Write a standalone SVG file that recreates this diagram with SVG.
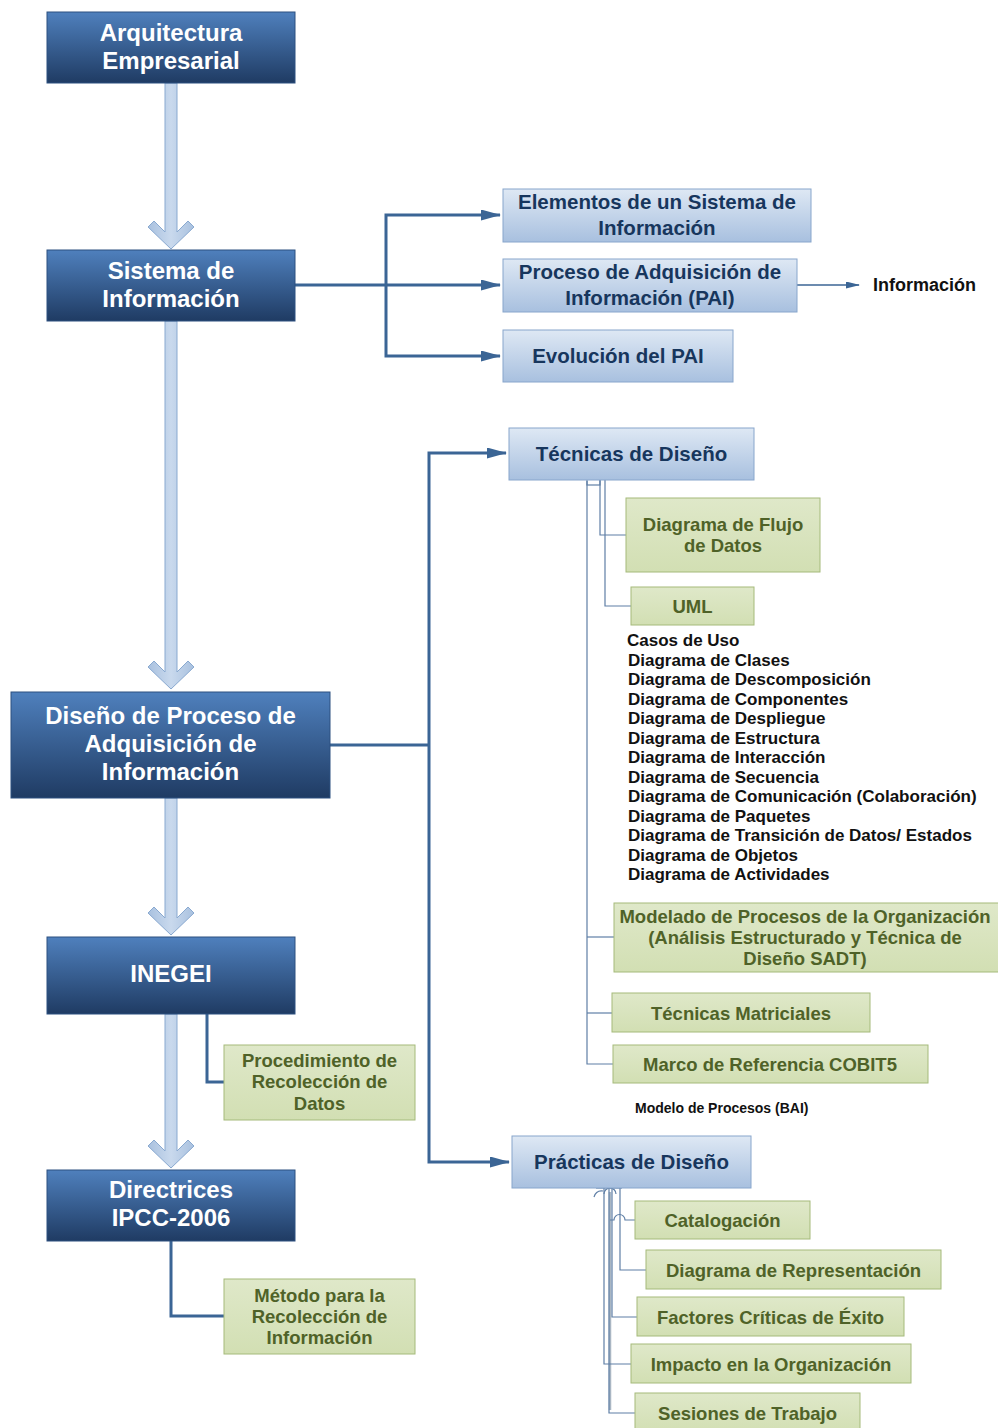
<svg xmlns="http://www.w3.org/2000/svg" width="998" height="1428" viewBox="0 0 998 1428">
  <defs>
    <linearGradient id="gDark" x1="0" y1="0" x2="0" y2="1">
      <stop offset="0" stop-color="#4f80bd"/>
      <stop offset="1" stop-color="#1f3b63"/>
    </linearGradient>
    <linearGradient id="gLight" x1="0" y1="0" x2="0" y2="1">
      <stop offset="0" stop-color="#dee8f4"/>
      <stop offset="1" stop-color="#a8c0df"/>
    </linearGradient>
    <linearGradient id="gGreen" x1="0" y1="0" x2="0" y2="1">
      <stop offset="0" stop-color="#dfe8c9"/>
      <stop offset="1" stop-color="#d2dfb3"/>
    </linearGradient>
    <linearGradient id="gShaft" x1="0" y1="0" x2="1" y2="0">
      <stop offset="0" stop-color="#a9c1df"/>
      <stop offset="0.5" stop-color="#c9d9ed"/>
      <stop offset="1" stop-color="#a9c1df"/>
    </linearGradient>
    <marker id="arrowBig" markerUnits="userSpaceOnUse" markerWidth="20" markerHeight="11" refX="19" refY="5.5" orient="auto">
      <path d="M0,0 L20,5.5 L0,11 Z" fill="#3b6595"/>
    </marker>
    <marker id="arrowSmall" markerUnits="userSpaceOnUse" markerWidth="14" markerHeight="7" refX="13" refY="3.5" orient="auto">
      <path d="M0,0 L14,3.5 L0,7 Z" fill="#3b6595"/>
    </marker>
    <style>
      .dark { fill: url(#gDark); stroke: #2d5080; stroke-width: 1; }
      .light { fill: url(#gLight); stroke: #88a6cc; stroke-width: 1; }
      .green { fill: url(#gGreen); stroke: #a5ba7b; stroke-width: 1; }
      .flow { fill: url(#gShaft); stroke: #89a9d0; stroke-width: 1; }
      .tD { font-family: "Liberation Sans", Arial, sans-serif; font-weight: bold; font-size: 24px; fill: #ffffff; text-anchor: middle; }
      .tL { font-family: "Liberation Sans", Arial, sans-serif; font-weight: bold; font-size: 20.5px; fill: #17365d; text-anchor: middle; }
      .tG { font-family: "Liberation Sans", Arial, sans-serif; font-weight: bold; font-size: 18.5px; fill: #4f6228; text-anchor: middle; }
      .tK { font-family: "Liberation Sans", Arial, sans-serif; font-weight: bold; fill: #111111; }
      .thick { fill: none; stroke: #3b6595; stroke-width: 3; }
      .thin { fill: none; stroke: #5f7fa6; stroke-width: 1.2; }
      .gray { fill: none; stroke: #a9b6c3; stroke-width: 2.5; }
    </style>
  </defs>

  <!-- main vertical flow arrows -->
  <g id="flow-arrows">
    <polygon class="flow" points="165,83 177,83 177,232 188,221 194,227 171,249 148,227 154,221 165,232"/>
    <polygon class="flow" points="165,321 177,321 177,672 188,661 194,667 171,689 148,667 154,661 165,672"/>
    <polygon class="flow" points="165,798 177,798 177,918 188,907 194,913 171,935 148,913 154,907 165,918"/>
    <polygon class="flow" points="165,1014 177,1014 177,1151 188,1140 194,1146 171,1168 148,1146 154,1140 165,1151"/>
  </g>

  <!-- connectors -->
  <g id="connectors">
    <!-- Sistema de Información branches -->
    <path class="thick" d="M295,285 H500" marker-end="url(#arrowBig)"/>
    <path class="thick" d="M386,285 V215 H500" marker-end="url(#arrowBig)"/>
    <path class="thick" d="M386,285 V356 H500" marker-end="url(#arrowBig)"/>
    <!-- PAI to Información -->
    <path d="M797,285 H859" fill="none" stroke="#3b6595" stroke-width="1.5" marker-end="url(#arrowSmall)"/>
    <!-- Diseño branches -->
    <path class="thick" d="M330,745 H429"/>
    <path class="thick" d="M429,745 V453 H506" marker-end="url(#arrowBig)"/>
    <path class="thick" d="M429,745 V1162 H509" marker-end="url(#arrowBig)"/>
    <!-- INEGEI and Directrices side boxes -->
    <path class="thick" d="M207,1014 V1082 H224"/>
    <path class="thick" d="M171,1241 V1316 H224"/>

    <!-- Técnicas de Diseño tree -->
    <rect class="thin" x="587" y="478" width="13" height="7"/>
    <path class="thin" d="M587,481 V1064 H613"/>
    <path class="thin" d="M587,937 H614"/>
    <path class="thin" d="M587,1013 H612"/>
    <path class="thin" d="M600,478 V535 H626"/>
    <path class="thin" d="M605,480 V606 H631"/>

    <!-- Prácticas de Diseño tree -->
    <path class="gray" d="M610,1192 V1410"/>
    <path class="thin" d="M596,1188 H622"/>
    <path class="thin" d="M594,1197 Q596,1190 603,1191"/>
    <path class="thin" d="M604,1194 A6,6 0 0 1 616,1194"/>
    <path class="thin" d="M604,1188 V1364 H631"/>
    <path class="thin" d="M609,1188 V1413 H635"/>
    <path class="thin" d="M612,1188 V1317 H637"/>
    <path class="thin" d="M620,1188 V1270 H646"/>
    <path class="thin" d="M610,1220 H614 A5.5,5.5 0 0 1 625,1220 H635"/>
  </g>

  <!-- dark main nodes -->
  <g id="n-arquitectura">
    <rect class="dark" x="47" y="12" width="248" height="71"/>
    <text class="tD" x="171" y="41">Arquitectura</text>
    <text class="tD" x="171" y="69">Empresarial</text>
  </g>
  <g id="n-sistema">
    <rect class="dark" x="47" y="250" width="248" height="71"/>
    <text class="tD" x="171" y="279">Sistema de</text>
    <text class="tD" x="171" y="307">Información</text>
  </g>
  <g id="n-diseno">
    <rect class="dark" x="11" y="692" width="319" height="106"/>
    <text class="tD" x="170.5" y="724">Diseño de Proceso de</text>
    <text class="tD" x="170.5" y="752">Adquisición de</text>
    <text class="tD" x="170.5" y="780">Información</text>
  </g>
  <g id="n-inegei">
    <rect class="dark" x="47" y="937" width="248" height="77"/>
    <text class="tD" x="171" y="982">INEGEI</text>
  </g>
  <g id="n-directrices">
    <rect class="dark" x="47" y="1170" width="248" height="71"/>
    <text class="tD" x="171" y="1198">Directrices</text>
    <text class="tD" x="171" y="1226">IPCC-2006</text>
  </g>

  <!-- light blue nodes -->
  <g id="n-elementos">
    <rect class="light" x="503" y="189" width="308" height="53"/>
    <text class="tL" x="657" y="209">Elementos de un Sistema de</text>
    <text class="tL" x="657" y="235">Información</text>
  </g>
  <g id="n-pai">
    <rect class="light" x="503" y="259" width="294" height="53"/>
    <text class="tL" x="650" y="279">Proceso de Adquisición de</text>
    <text class="tL" x="650" y="305">Información (PAI)</text>
  </g>
  <g id="n-evolucion">
    <rect class="light" x="503" y="330" width="230" height="52"/>
    <text class="tL" x="618" y="363">Evolución del PAI</text>
  </g>
  <g id="n-tecnicas">
    <rect class="light" x="509" y="428" width="245" height="52"/>
    <text class="tL" x="631.5" y="461">Técnicas de Diseño</text>
  </g>
  <g id="n-practicas">
    <rect class="light" x="512" y="1136" width="239" height="52"/>
    <text class="tL" x="631.5" y="1169">Prácticas de Diseño</text>
  </g>

  <!-- plain label -->
  <g id="n-informacion">
    <text class="tK" x="873" y="291" font-size="18">Información</text>
  </g>

  <!-- green nodes -->
  <g id="n-flujo">
    <rect class="green" x="626" y="498" width="194" height="74"/>
    <text class="tG" x="723" y="530.5">Diagrama de Flujo</text>
    <text class="tG" x="723" y="551.5">de Datos</text>
  </g>
  <g id="n-uml">
    <rect class="green" x="631" y="587" width="123" height="38"/>
    <text class="tG" x="692.5" y="612.5">UML</text>
  </g>
  <g id="n-uml-list">
    <text class="tK" x="627" y="646" font-size="17">Casos de Uso</text>
    <text class="tK" x="628" y="666" font-size="17">Diagrama de Clases</text>
    <text class="tK" x="628" y="685" font-size="17">Diagrama de Descomposición</text>
    <text class="tK" x="628" y="705" font-size="17">Diagrama de Componentes</text>
    <text class="tK" x="628" y="724" font-size="17">Diagrama de Despliegue</text>
    <text class="tK" x="628" y="744" font-size="17">Diagrama de Estructura</text>
    <text class="tK" x="628" y="763" font-size="17">Diagrama de Interacción</text>
    <text class="tK" x="628" y="783" font-size="17">Diagrama de Secuencia</text>
    <text class="tK" x="628" y="802" font-size="17">Diagrama de Comunicación (Colaboración)</text>
    <text class="tK" x="628" y="822" font-size="17">Diagrama de Paquetes</text>
    <text class="tK" x="628" y="841" font-size="17">Diagrama de Transición de Datos/ Estados</text>
    <text class="tK" x="628" y="861" font-size="17">Diagrama de Objetos</text>
    <text class="tK" x="628" y="880" font-size="17">Diagrama de Actividades</text>
  </g>
  <g id="n-modelado">
    <rect class="green" x="614" y="903" width="390" height="69"/>
    <text class="tG" x="805" y="922.5">Modelado de Procesos de la Organización</text>
    <text class="tG" x="805" y="943.5">(Análisis Estructurado y Técnica de</text>
    <text class="tG" x="805" y="964.5">Diseño SADT)</text>
  </g>
  <g id="n-matriciales">
    <rect class="green" x="612" y="993" width="258" height="39"/>
    <text class="tG" x="741" y="1019.5">Técnicas Matriciales</text>
  </g>
  <g id="n-cobit">
    <rect class="green" x="613" y="1045" width="315" height="38"/>
    <text class="tG" x="770" y="1070.5">Marco de Referencia COBIT5</text>
  </g>
  <g id="n-modelo-bai">
    <text class="tK" x="635" y="1113" font-size="14">Modelo de Procesos (BAI)</text>
  </g>
  <g id="n-procedimiento">
    <rect class="green" x="224" y="1045" width="191" height="75"/>
    <text class="tG" x="319.5" y="1066.5">Procedimiento de</text>
    <text class="tG" x="319.5" y="1087.5">Recolección de</text>
    <text class="tG" x="319.5" y="1109.5">Datos</text>
  </g>
  <g id="n-metodo">
    <rect class="green" x="224" y="1279" width="191" height="75"/>
    <text class="tG" x="319.5" y="1301.5">Método para la</text>
    <text class="tG" x="319.5" y="1322.5">Recolección de</text>
    <text class="tG" x="319.5" y="1343.5">Información</text>
  </g>
  <g id="n-catalogacion">
    <rect class="green" x="635" y="1201" width="175" height="38"/>
    <text class="tG" x="722.5" y="1226.5">Catalogación</text>
  </g>
  <g id="n-representacion">
    <rect class="green" x="646" y="1250" width="295" height="39"/>
    <text class="tG" x="793.5" y="1276.5">Diagrama de Representación</text>
  </g>
  <g id="n-factores">
    <rect class="green" x="637" y="1297" width="267" height="39"/>
    <text class="tG" x="770.5" y="1323.5">Factores Críticas de Éxito</text>
  </g>
  <g id="n-impacto">
    <rect class="green" x="631" y="1344" width="280" height="39"/>
    <text class="tG" x="771" y="1370.5">Impacto en la Organización</text>
  </g>
  <g id="n-sesiones">
    <rect class="green" x="635" y="1393" width="225" height="40"/>
    <text class="tG" x="747.5" y="1419.5">Sesiones de Trabajo</text>
  </g>
</svg>
